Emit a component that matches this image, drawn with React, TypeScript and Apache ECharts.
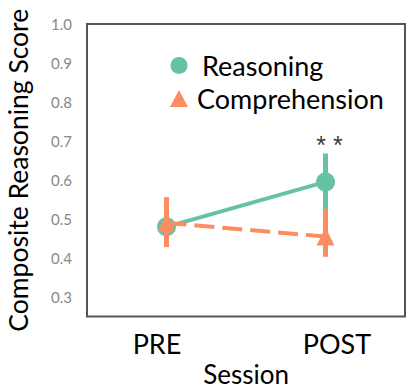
import React, { useEffect, useRef } from "react";
import * as echarts from "echarts";

const sessions = ["PRE", "POST"];
const reasoningMean = [0.48, 0.595];
const reasoningLow = [0.445, 0.52];
const reasoningHigh = [0.515, 0.668];
const comprehensionMean = [0.49, 0.455];
const comprehensionLow = [0.428, 0.403];
const comprehensionHigh = [0.556, 0.526];
const sigLabel = "* *";
const sigPos: [string, number][] = [["POST", 0.69]];

const GREEN = "#66c2a5";
const ORANGE = "#fc8d62";
const FONT = "Lato";

function errSeries(name: string, low: number[], high: number[], color: string, z: number) {
  return {
    type: "custom",
    name: name + "_err",
    z,
    data: sessions.map((_, i) => [i, low[i], high[i]]),
    encode: { x: 0, y: [1, 2] },
    renderItem: (params: any, api: any) => {
      const p1 = api.coord([api.value(0), api.value(1)]);
      const p2 = api.coord([api.value(0), api.value(2)]);
      return {
        type: "line",
        shape: { x1: p1[0], y1: p1[1], x2: p2[0], y2: p2[1] },
        style: { stroke: color, lineWidth: 5 },
      };
    },
    silent: true,
  };
}

export default function App() {
  const ref = useRef<HTMLDivElement>(null);
  useEffect(() => {
    if (!ref.current) return;
    const chart = echarts.init(ref.current, undefined, { renderer: "svg" });
    chart.setOption({
      animation: false,
      textStyle: { fontFamily: FONT },
      grid: {
        left: 87,
        right: 4,
        top: 24,
        bottom: 72.5,
        outerBoundsMode: "none",
        containLabel: false,
        show: true,
        borderColor: "#555",
        borderWidth: 2,
        backgroundColor: "transparent",
      },
      legend: {
        orient: "vertical",
        left: 165,
        top: 47,
        itemWidth: 18,
        itemHeight: 17,
        itemGap: 6,
        textStyle: {
          fontSize: 27,
          color: "#000",
          fontFamily: FONT,
          rich: {
            r: { fontSize: 27, color: "#000", fontFamily: FONT, padding: [0, 0, 0, 9] },
            c: { fontSize: 27, color: "#000", fontFamily: FONT, padding: [0, 0, 0, 4] },
          },
        },
        formatter: (n: string) => (n === "Reasoning" ? "{r|" + n + "}" : "{c|" + n + "}"),
        data: [
          { name: "Reasoning", icon: "circle" },
          { name: "Comprehension", icon: "triangle" },
        ],
        selectedMode: false,
      },
      xAxis: {
        type: "category",
        data: sessions,
        boundaryGap: true,
        axisLine: { show: false },
        axisTick: { show: false },
        axisLabel: {
          interval: 0,
          hideOverlap: false,
          margin: 13,
          fontSize: 27,
          color: "#000",
          fontFamily: FONT,
          formatter: (v: string) => (v === "PRE" ? "{pre|PRE}" : "{post|POST}"),
          rich: {
            pre: { fontSize: 27, color: "#000", fontFamily: FONT, padding: [0, 19, 0, 0] },
            post: { fontSize: 27, color: "#000", fontFamily: FONT, padding: [0, 0, 0, 23] },
          },
        },
        name: "Session",
        nameLocation: "middle",
        nameGap: 43,
        nameTextStyle: { fontSize: 26, lineHeight: 26, color: "#000", fontFamily: FONT },
      },
      yAxis: {
        type: "value",
        min: 0.25,
        max: 1.0,
        interval: 0.05,
        axisLine: { show: false },
        axisTick: { show: false },
        splitLine: { show: false },
        axisLabel: {
          margin: 15,
          fontSize: 15,
          color: "#888",
          fontFamily: FONT,
          formatter: (v: number) => {
            const r = Math.round(v * 100);
            return r % 10 === 0 ? (r / 100).toFixed(1) : "";
          },
        },
        name: "Composite Reasoning Score",
        nameLocation: "middle",
        nameGap: 56,
        nameTextStyle: { fontSize: 26.5, color: "#000", fontFamily: FONT },
      },
      series: [
        errSeries("Reasoning", reasoningLow, reasoningHigh, GREEN, 2),
        {
          type: "line",
          name: "Reasoning",
          z: 2,
          data: reasoningMean,
          symbol: "circle",
          symbolSize: 19,
          itemStyle: { color: GREEN },
          lineStyle: { color: GREEN, width: 4 },
        },
        errSeries("Comprehension", comprehensionLow, comprehensionHigh, ORANGE, 3),
        {
          type: "line",
          name: "Comprehension",
          z: 3,
          data: comprehensionMean,
          symbol: "triangle",
          symbolSize: 18,
          itemStyle: { color: ORANGE },
          lineStyle: { color: ORANGE, width: 4, type: [20, 8] },
        },
        {
          type: "scatter",
          name: "sig",
          data: sigPos,
          symbolSize: 0,
          silent: true,
          label: {
            show: true,
            position: "inside",
            offset: [4, 0],
            formatter: () => sigLabel,
            fontSize: 25,
            color: "#000",
            fontFamily: "Liberation Sans",
          },
        },
      ],
    });
    return () => chart.dispose();
  }, []);
  return <div ref={ref} style={{ width: 409, height: 389, position: "absolute", left: 0, top: 0 }} />;
}
